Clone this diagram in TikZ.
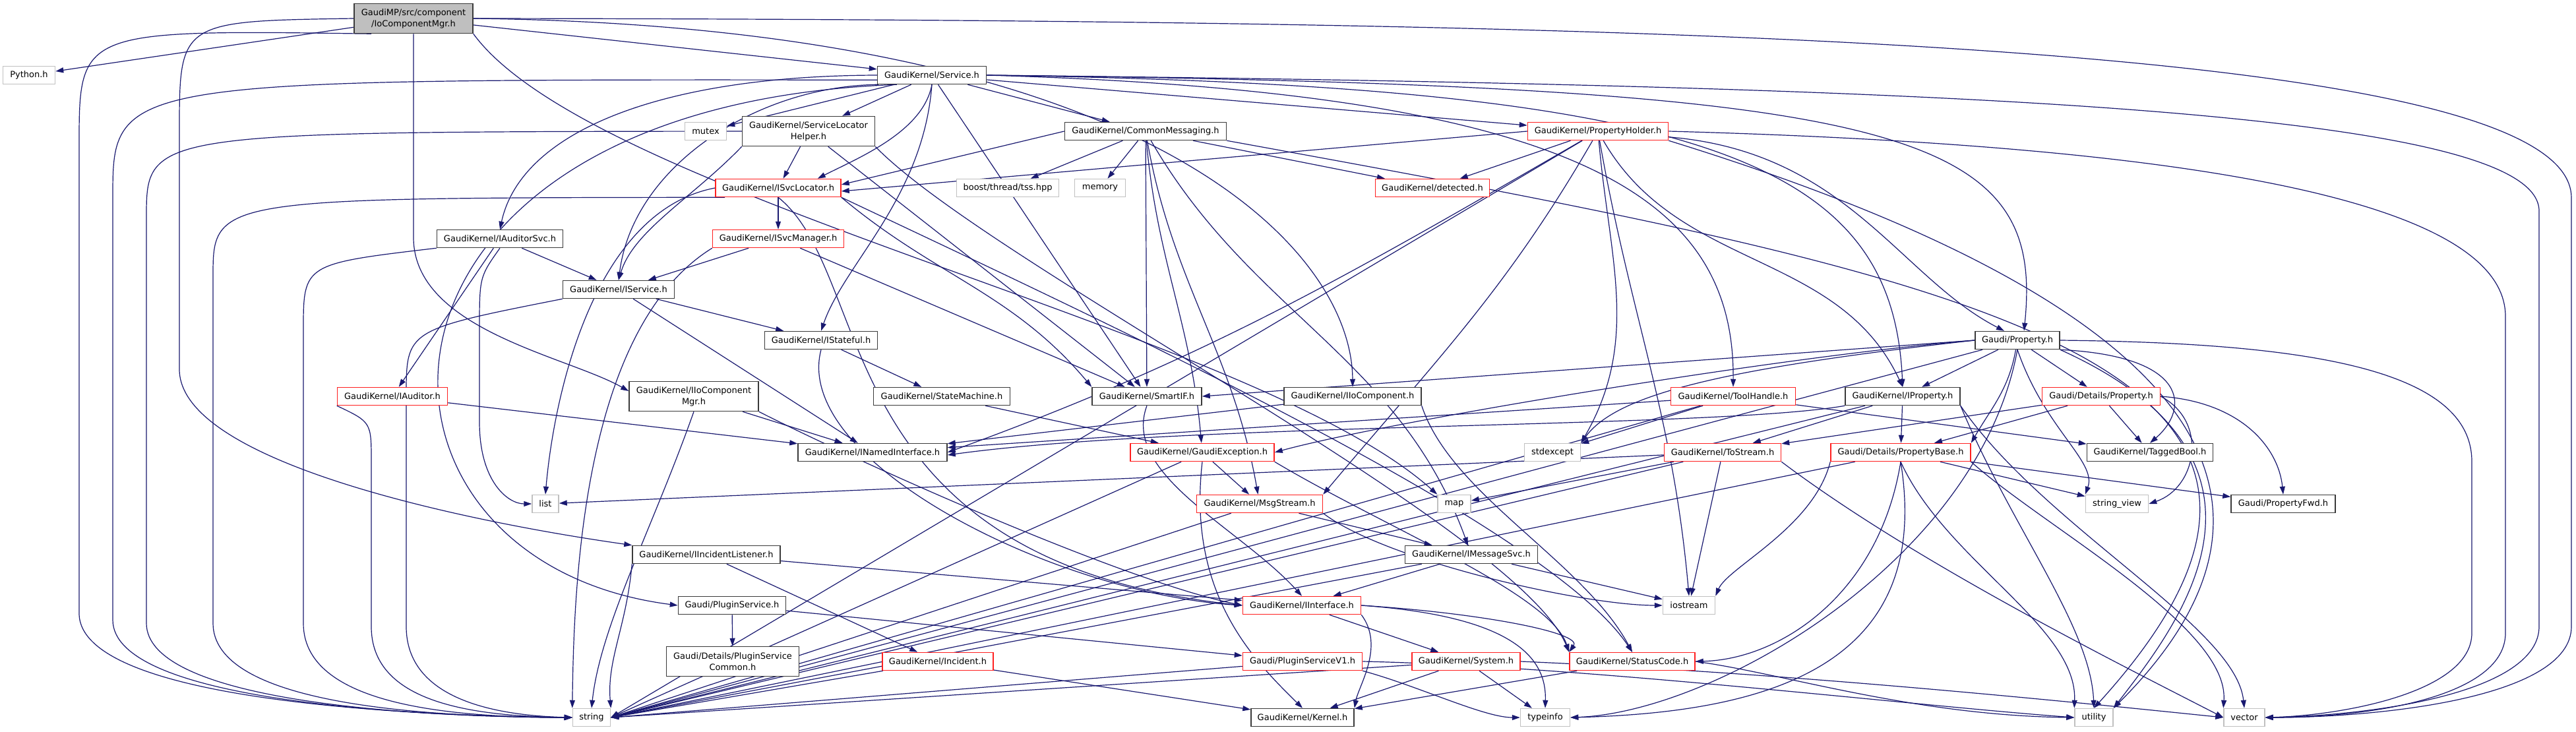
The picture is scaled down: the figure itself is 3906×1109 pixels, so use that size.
\documentclass[tikz,border=0pt]{standalone}
\usepackage{fontspec}
\setmainfont{DejaVu Sans}
\usetikzlibrary{arrows.meta}
\pgfdeclarelayer{bg}
\pgfsetlayers{bg,main}
\definecolor{edgec}{HTML}{191970}
\definecolor{nblk}{HTML}{3A3A3A}
\definecolor{nred}{HTML}{FF2020}
\definecolor{nsys}{HTML}{C0C0C0}
\definecolor{rootfill}{HTML}{BFBFBF}
\newcommand\ndfont{\fontsize{13}{17}\selectfont}
\tikzset{
 ed/.style={draw=edgec, line width=1.2pt, -{Triangle[length=12pt,width=8pt]}},
 nb/.style={rectangle, inner sep=0pt, minimum height=27pt, font=\ndfont, line width=1.5pt, fill=white, align=center},
 blk/.style={nb, draw=nblk},
 rd/.style={nb, draw=nred},
 sy/.style={nb, draw=nsys},
 tall/.style={minimum height=45pt},
}
\begin{document}
\begin{tikzpicture}[x=1pt,y=-1pt]
\useasboundingbox (0,0) rectangle (3906,1109);
% nodes
\node[blk, tall, fill=rootfill, minimum width=180pt] (root) at (627,28) {GaudiMP/src/component\\/IoComponentMgr.h};
\node[sy, minimum width=79pt] (python) at (44,114) {Python.h};
\node[blk, minimum width=165pt] (service) at (1413,114) {GaudiKernel/Service.h};
\node[sy, minimum width=63pt] (mutex) at (1070,199) {mutex};
\node[blk, tall, minimum width=201pt] (slh) at (1226,199) {GaudiKernel/ServiceLocator\\Helper.h};
\node[blk, minimum width=245pt] (cm) at (1737,199) {GaudiKernel/CommonMessaging.h};
\node[rd, minimum width=213pt] (ph) at (2423,199) {GaudiKernel/PropertyHolder.h};
\node[blk, minimum width=191pt] (ias) at (758,362) {GaudiKernel/IAuditorSvc.h};
\node[rd, minimum width=190pt] (isl) at (1180,285) {GaudiKernel/ISvcLocator.h};
\node[sy, minimum width=155pt] (tss) at (1528,285) {boost/thread/tss.hpp};
\node[sy, minimum width=77pt] (memory) at (1668,285) {memory};
\node[rd, minimum width=173pt] (detected) at (2172,285) {GaudiKernel/detected.h};
\node[rd, minimum width=199pt] (ism) at (1180,362) {GaudiKernel/ISvcManager.h};
\node[blk, minimum width=169pt] (is) at (938,439) {GaudiKernel/IService.h};
\node[blk, minimum width=171pt] (ist) at (1245,516) {GaudiKernel/IStateful.h};
\node[blk, minimum width=128pt] (gp) at (3059,516) {Gaudi/Property.h};
\node[rd, minimum width=167pt] (ia) at (595,601) {GaudiKernel/IAuditor.h};
\node[blk, tall, minimum width=196pt] (iicm) at (1052,601) {GaudiKernel/IIoComponent\\Mgr.h};
\node[blk, minimum width=207pt] (sm) at (1428,601) {GaudiKernel/StateMachine.h};
\node[blk, minimum width=166pt] (smartif) at (1739,601) {GaudiKernel/SmartIF.h};
\node[blk, minimum width=208pt] (iic) at (2051,601) {GaudiKernel/IIoComponent.h};
\node[rd, minimum width=189pt] (th) at (2628,601) {GaudiKernel/ToolHandle.h};
\node[blk, minimum width=174pt] (ip) at (2885,601) {GaudiKernel/IProperty.h};
\node[rd, minimum width=179pt] (dp) at (3186,601) {Gaudi/Details/Property.h};
\node[blk, minimum width=226pt] (ini) at (1323,686) {GaudiKernel/INamedInterface.h};
\node[rd, minimum width=218pt] (ge) at (1823,686) {GaudiKernel/GaudiException.h};
\node[sy, minimum width=85pt] (stdexcept) at (2354,686) {stdexcept};
\node[rd, minimum width=177pt] (ts) at (2612,686) {GaudiKernel/ToStream.h};
\node[rd, minimum width=212pt] (pb) at (2882,686) {Gaudi/Details/PropertyBase.h};
\node[blk, minimum width=191pt] (tb) at (3260,686) {GaudiKernel/TaggedBool.h};
\node[sy, minimum width=40pt] (list) at (827,764) {list};
\node[rd, minimum width=191pt] (ms) at (1910,764) {GaudiKernel/MsgStream.h};
\node[sy, minimum width=50pt] (map) at (2205,764) {map};
\node[sy, minimum width=95pt] (sv) at (3210,764) {string\_view};
\node[blk, minimum width=158pt] (pfwd) at (3462,764) {Gaudi/PropertyFwd.h};
\node[blk, minimum width=224pt] (iil) at (1071,841) {GaudiKernel/IIncidentListener.h};
\node[blk, minimum width=201pt] (ims) at (2231,841) {GaudiKernel/IMessageSvc.h};
\node[sy, minimum width=79pt] (iostream) at (2561,918) {iostream};
\node[blk, minimum width=163pt] (ps) at (1110,918) {Gaudi/PluginService.h};
\node[rd, minimum width=179pt] (ii) at (1974,918) {GaudiKernel/IInterface.h};
\node[blk, tall, minimum width=201pt] (psc) at (1111,1003) {Gaudi/Details/PluginService\\Common.h};
\node[rd, minimum width=168pt] (inc) at (1422,1003) {GaudiKernel/Incident.h};
\node[rd, minimum width=181pt] (psv1) at (1975,1003) {Gaudi/PluginServiceV1.h};
\node[rd, minimum width=164pt] (sys) at (2223,1003) {GaudiKernel/System.h};
\node[rd, minimum width=190pt] (sc) at (2475,1003) {GaudiKernel/StatusCode.h};
\node[sy, minimum width=57pt] (string) at (897,1088) {string};
\node[blk, minimum width=156pt] (kernel) at (1975,1088) {GaudiKernel/Kernel.h};
\node[sy, minimum width=75pt] (typeinfo) at (2343,1088) {typeinfo};
\node[sy, minimum width=58pt] (utility) at (3175,1088) {utility};
\node[sy, minimum width=62pt] (vector) at (3403,1088) {vector};

\begin{pgfonlayer}{bg}
\fill[white] (0,0) rectangle (3906,1109);
% root
\draw[ed] (root) -- (python);
\draw[ed] (root) -- (service);
\draw[ed] (root.south) -- (627,360) .. controls (627,500) and (860,540) .. ([yshift=8pt]iicm.west);
\draw[ed] (root.west) .. controls (272,32) .. (272,200) -- (272,560) .. controls (272,700) and (700,790) .. (iil.north west);
\draw[ed] (root.east) .. controls (1750,40) and (2050,380) .. (iic.north);
\draw[ed] (root.south east) .. controls (900,300) and (1900,500) .. (map.north west);
\draw[ed] (root.200) .. controls (120,45) .. (120,220) -- (120,930) .. controls (120,1060) and (600,1085) .. (string.west);
\draw[ed] (root.east) .. controls (2500,30) and (3899,60) .. (3899,300) -- (3899,950) .. controls (3899,1060) and (3600,1088) .. (vector.east);
% service
\draw[ed] (service) -- (mutex);
\draw[ed] (service) -- (slh);
\draw[ed] (service) -- (cm);
\draw[ed] (service) -- (ph);
\draw[ed] (service.west) .. controls (1000,115) and (790,200) .. (ias.north);
\draw[ed] (service.south) .. controls (1400,200) and (1300,240) .. ([xshift=-36pt]isl.north east);
\draw[ed] (service.190) .. controls (1150,130) and (960,250) .. (is.north);
\draw[ed] (service.south) .. controls (1400,300) and (1280,400) .. (ist.north);
\draw[ed] (service) -- (smartif);
\draw[ed] (service.east) .. controls (2400,140) and (2630,300) .. (th.north);
\draw[ed] (service.east) .. controls (2600,130) and (2870,250) .. (ip.north);
\draw[ed] (service.east) .. controls (2900,130) and (3100,200) .. ([xshift=10pt]gp.north);
\draw[ed] (service.195) .. controls (500,160) and (500,850) .. (ps.west);
\draw[ed] (service.east) .. controls (3000,130) and (3850,170) .. (3850,320) -- (3850,950) .. controls (3850,1050) and (3600,1085) .. (vector.east);
\draw[ed] (service.185) .. controls (171,120) .. (171,300) -- (171,940) .. controls (171,1060) and (600,1086) .. (string.west);
% slh
\draw[ed] (slh) -- (isl);
\draw[ed] (slh.south west) .. controls (1050,300) and (960,350) .. (is.north);
\draw[ed] (slh) -- (smartif);
\draw[ed] (slh.south east) .. controls (1500,400) and (2300,800) .. (sc.north west);
\draw[ed] (slh.west) .. controls (222,200) .. (222,330) -- (222,945) .. controls (222,1060) and (600,1087) .. (string.west);
% cm
\draw[ed] (cm) -- (tss);
\draw[ed] (cm) -- (memory);
\draw[ed] (cm) -- (detected);
\draw[ed] (cm.west) -- ([yshift=5pt]isl.east);
\draw[ed] (cm) -- (smartif);
\draw[ed] (cm) to[out=-85,in=95] (ge);
\draw[ed] (cm) to[out=-80,in=100] (ms);
\draw[ed] (cm) to[out=-60,in=110] (ims);
\draw[ed] (cm.south east) .. controls (3000,420) and (3650,550) .. (utility.north);
% ph
\draw[ed] (ph) -- (detected);
\draw[ed] (ph.west) -- ([yshift=-5pt]isl.east);
\draw[ed] (ph) .. controls (2800,230) and (2880,420) .. ([xshift=-20pt]gp.north);
\draw[ed] (ph) to[out=-60,in=115] (ip.north);
\draw[ed] (ph) to[out=-150,in=20] (ini.east);
\draw[ed] (ph) to[out=-120,in=50] (ms.north east);
\draw[ed] (ph) to[out=-85,in=60] (stdexcept.north east);
\draw[ed] (ph) to[out=-80,in=95] (iostream.north);
\draw[ed] (ph) -- (string.east);
\draw[ed] (ph.east) .. controls (3300,220) and (3799,300) .. (3799,480) -- (3799,960) .. controls (3799,1055) and (3600,1088) .. (vector.east);
\draw[ed] (ph.south east) .. controls (3200,420) and (3580,700) .. (utility.north east);
% ias
\draw[ed] (ias) -- (is);
\draw[ed] (ias) -- (ia);
\draw[ed] (ias.south) .. controls (727,420) .. (727,500) -- (727,640) .. controls (727,730) and (770,764) .. (list.west);
\draw[ed] (ias.south west) .. controls (460,400) .. (460,500) -- (460,945) .. controls (460,1060) and (650,1088) .. (string.west);
% isl
\draw[ed] (isl) -- (ism);
\draw[ed] (isl.south east) to[out=-40,in=130] (smartif.north west);
\draw[ed] (isl.south) .. controls (1330,420) and (1250,850) .. (ii.west);
\draw[ed] (isl.south east) .. controls (1700,500) and (2350,800) .. (sc.north);
\draw[ed] (isl.west) .. controls (900,320) and (840,600) .. (list.north);
\draw[ed] (isl.190) .. controls (323,300) .. (323,420) -- (323,945) .. controls (323,1060) and (600,1087) .. (string.west);
% ism
\draw[ed] (ism) -- (is);
\draw[ed] (ism) -- (smartif);
\draw[ed] (ism.south west) .. controls (880,500) and (870,900) .. (string.north west);
% is
\draw[ed] (is) -- (ini);
\draw[ed] (is) -- (ist);
\draw[ed] (is.south west) .. controls (616,500) .. (616,600) -- (616,950) .. controls (616,1060) and (750,1085) .. (string.west);
% ist
\draw[ed] (ist) -- (sm);
\draw[ed] (ist.south) .. controls (1200,700) and (1600,900) .. (ii.west);
% ia
\draw[ed] (ia) -- (ini);
\draw[ed] (ia.south west) .. controls (563,640) .. (563,700) -- (563,950) .. controls (563,1060) and (700,1086) .. (string.west);
% iicm
\draw[ed] (iicm) -- (ini);
\draw[ed] (iicm.south) .. controls (990,800) and (910,950) .. (string.north);
\draw[ed] (iicm.south east) .. controls (1300,700) and (1700,880) .. (ii.west);
% sm
\draw[ed] (sm) -- (ge);
% smartif
\draw[ed] (smartif.south) .. controls (1700,720) and (1880,800) .. (ii.north);
% iic
\draw[ed] (iic) -- (ini);
\draw[ed] (iic.south east) .. controls (2200,750) and (2400,850) .. (sc.north);
% th
\draw[ed] (th) -- (ini);
\draw[ed] (th) -- (stdexcept);
\draw[ed] (th) -- (tb);
\draw[ed] (th) -- (string.east);
% ip
\draw[ed] (ip.south west) .. controls (2600,650) and (1800,640) .. ([yshift=-4pt]ini.east);
\draw[ed] (ip) -- (ts);
\draw[ed] (ip) -- (pb);
\draw[ed] (ip) -- (string.east);
\draw[ed] (ip.south east) .. controls (3100,800) and (3390,950) .. (vector.north);
\draw[ed] (ip.south east) .. controls (3050,800) and (3170,950) .. (utility.north);
% dp
\draw[ed] (dp) -- (tb);
\draw[ed] (dp.east) .. controls (3350,640) and (3330,740) .. (sv.east);
\draw[ed] (dp.east) .. controls (3400,610) and (3455,680) .. (pfwd.north);
\draw[ed] (dp) -- (ts);
\draw[ed] (dp) -- (pb);
% gp
\draw[ed] (gp) -- (dp);
\draw[ed] (gp) -- (ip);
\draw[ed] (gp) to[out=-100,in=60] (pb.north east);
\draw[ed] (gp.south east) .. controls (3320,540) and (3320,620) .. (tb.north);
\draw[ed] (gp.south) .. controls (3100,650) and (3180,700) .. (sv.north west);
\draw[ed] (gp.west) -- (smartif.east);
\draw[ed] (gp.west) .. controls (2700,540) and (2100,640) .. (ge.east);
\draw[ed] (gp.west) .. controls (2600,560) and (2450,600) .. (stdexcept.north east);
\draw[ed] (gp) -- (string.east);
\draw[ed] (gp.east) .. controls (3500,520) and (3748,560) .. (3748,700) -- (3748,960) .. controls (3748,1050) and (3550,1085) .. (vector.east);
\draw[ed] (gp.south east) .. controls (3500,700) and (3300,950) .. (utility.north east);
\draw[ed] (gp.south) .. controls (3000,850) and (2600,1080) .. (typeinfo.east);
% pb
\draw[ed] (pb.south) .. controls (2850,900) and (2700,1000) .. (sc.east);
\draw[ed] (pb.south west) .. controls (2750,800) and (2620,860) .. (iostream.north east);
\draw[ed] (pb) -- (string.east);
\draw[ed] (pb) -- (sv);
\draw[ed] (pb) -- (pfwd);
\draw[ed] (pb.south) .. controls (2950,850) and (3150,950) .. (utility.north west);
\draw[ed] (pb.south) .. controls (2930,1000) and (2700,1080) .. (typeinfo.east);
\draw[ed] (pb.south east) .. controls (3100,800) and (3380,950) .. (vector.north west);
% ts
\draw[ed] (ts) -- (iostream);
\draw[ed] (ts) -- (list);
\draw[ed] (ts) -- (map);
\draw[ed] (ts) -- (string.east);
\draw[ed] (ts.south east) .. controls (2900,850) and (3200,1000) .. (vector.west);
% ge
\draw[ed] (ge) -- (ms);
\draw[ed] (ge.south) .. controls (1800,900) and (1900,1000) .. (kernel.north);
\draw[ed] (ge.south east) .. controls (2100,800) and (2350,900) .. (sc.north west);
\draw[ed] (ge) -- (string.east);
% ms
\draw[ed] (ms) -- (ims);
\draw[ed] (ms.south east) .. controls (2100,850) and (2400,918) .. (iostream.west);
\draw[ed] (ms) -- (string.east);
% ims
\draw[ed] (ims) -- (ii);
\draw[ed] (ims) -- (iostream);
\draw[ed] (ims) -- (string.east);
% iil
\draw[ed] (iil) -- (ii);
\draw[ed] (iil) -- (inc);
\draw[ed] (iil.south west) .. controls (950,950) and (920,1000) .. (string.north east);
% ps
\draw[ed] (ps) -- (psc);
\draw[ed] (ps) -- (psv1);
% ii
\draw[ed] (ii) -- (sys);
\draw[ed] (ii.south east) .. controls (2100,980) and (2060,1040) .. (kernel.north east);
\draw[ed] (ii.east) .. controls (2250,930) and (2400,960) .. (sc.north west);
\draw[ed] (ii.east) .. controls (2300,935) and (2345,1000) .. (typeinfo.north);
% inc
\draw[ed] (inc) -- (string.east);
\draw[ed] (inc) -- (kernel);
% psv1
\draw[ed] (psv1) -- (string.east);
\draw[ed] (psv1.south east) .. controls (2150,1040) and (2250,1088) .. (typeinfo.west);
\draw[ed] (psv1.east) .. controls (2400,1010) and (2900,1070) .. (utility.west);
% sys
\draw[ed] (sys) -- (string.east);
\draw[ed] (sys) -- (kernel);
\draw[ed] (sys) -- (typeinfo);
\draw[ed] (sys.east) .. controls (2700,1020) and (3100,1060) .. (vector.west);
% sc
\draw[ed] (sc) -- (kernel);
\draw[ed] (sc.east) .. controls (2700,1020) and (2900,1085) .. (utility.west);
\end{pgfonlayer}
\end{tikzpicture}
\end{document}
